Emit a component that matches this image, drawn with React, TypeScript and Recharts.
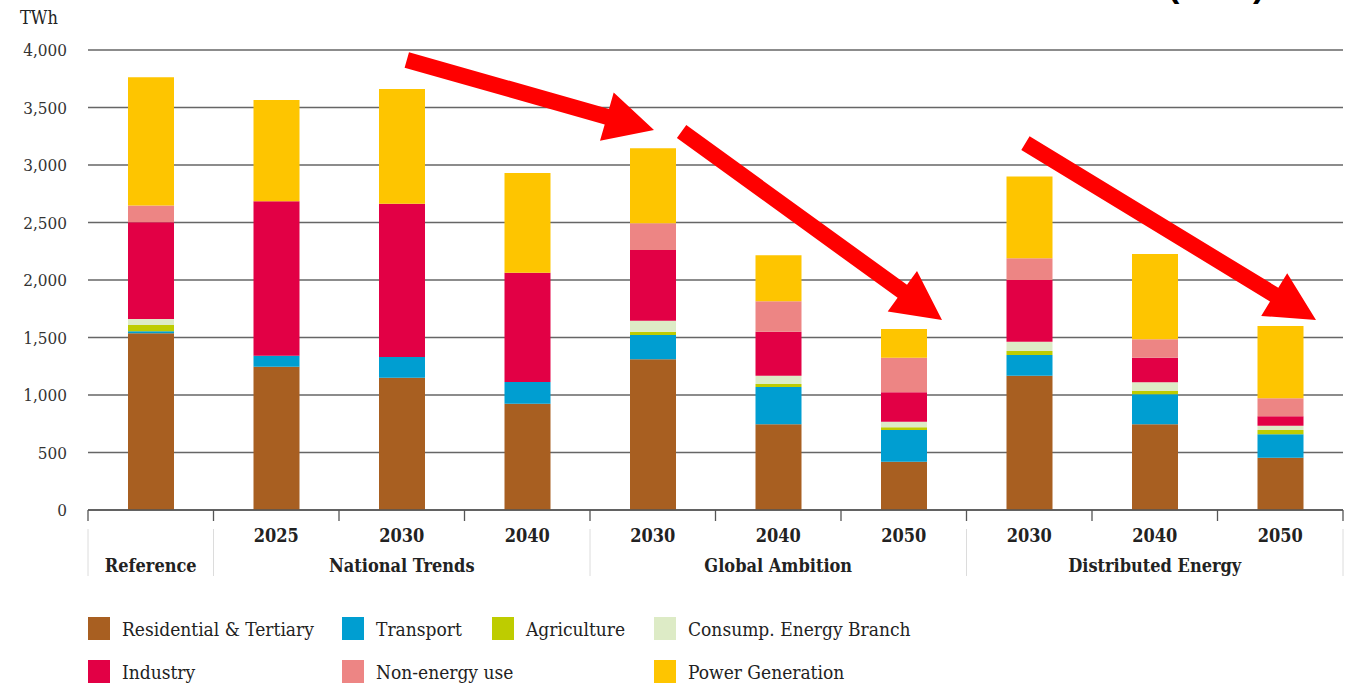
import React from "react";
import { BarChart, Bar, XAxis, YAxis, CartesianGrid } from "recharts";

// ---------- data ----------
const categoryKeys = ["REF", "NT2025", "NT2030", "NT2040", "GA2030", "GA2040", "GA2050", "DE2030", "DE2040", "DE2050"];
const yearLabels = ["", "2025", "2030", "2040", "2030", "2040", "2050", "2030", "2040", "2050"];
const groupLabels = ["Reference", "National Trends", "Global Ambition", "Distributed Energy"];
const groupCenterIndex = [0, 2, 5, 8];
const groupStartIndex = [0, 1, 4, 7];

const residential = [1537, 1246, 1151, 924, 1310, 745, 420, 1168, 745, 455];
const transport = [18, 96, 179, 189, 212, 325, 276, 180, 261, 203];
const agriculture = [54, 0, 0, 0, 29, 26, 23, 35, 29, 38];
const consump = [52, 0, 0, 0, 95, 72, 49, 81, 75, 37];
const industry = [841, 1342, 1334, 951, 615, 383, 255, 536, 215, 82];
const nonEnergy = [145, 0, 0, 0, 232, 264, 302, 189, 159, 156];
const power = [1116, 881, 997, 867, 652, 400, 249, 710, 742, 629];

const yTicks = [0, 500, 1000, 1500, 2000, 2500, 3000, 3500, 4000];
const Y_MAX = 4000;

const seriesNames = [
  "Residential & Tertiary",
  "Transport",
  "Agriculture",
  "Consump. Energy Branch",
  "Industry",
  "Non-energy use",
  "Power Generation",
];
const seriesKeys = ["res", "trans", "agri", "cons", "ind", "nonen", "power"];
const seriesValues = [residential, transport, agriculture, consump, industry, nonEnergy, power];
const seriesColors = ["#A85F21", "#009ED1", "#BECC00", "#DDEBC6", "#E20045", "#ED8584", "#FEC500"];

// legend grid placement (row, column) for each series
const legendRow = [0, 0, 0, 0, 1, 1, 1];
const legendCol = [0, 1, 2, 3, 0, 1, 3];

// annotation arrows: x in category units (0..10 across the plot), y in TWh; tail -> tip
const arrows = [
  { x1: 2.54, y1: 3913, x2: 4.51, y2: 3304 },
  { x1: 4.73, y1: 3291, x2: 6.805, y2: 1652 },
  { x1: 7.47, y1: 3191, x2: 9.785, y2: 1652 },
];

const data = categoryKeys.map((k, i) => {
  const row: any = { key: k, idx: i };
  seriesKeys.forEach((s, j) => {
    row[s] = seriesValues[j][i];
  });
  return row;
});

// ---------- layout ----------
const W = 1350;
const CHART_H = 590;
const MARGIN = { top: 50, right: 7, bottom: 0, left: 0 };
const Y_AXIS_W = 88;
const X_AXIS_H = 80;
const PLOT_LEFT = MARGIN.left + Y_AXIS_W;
const PLOT_TOP = MARGIN.top;
const PLOT_W = W - MARGIN.left - MARGIN.right - Y_AXIS_W;
const PLOT_H = CHART_H - MARGIN.top - MARGIN.bottom - X_AXIS_H;
const BAND = PLOT_W / categoryKeys.length;

const FONT = "'DejaVu Serif Condensed', 'DejaVu Serif', serif";

const XTick = (props: any) => {
  const { x, y, payload } = props;
  const i: number = payload?.index ?? props.index ?? 0;
  const left = x - BAND / 2;
  const right = x + BAND / 2;
  const gIdx = groupCenterIndex.indexOf(i);
  return (
    <g>
      <line x1={left} y1={y} x2={left} y2={y + 11} stroke="#555" strokeWidth={1.3} />
      {i === categoryKeys.length - 1 && (
        <line x1={right} y1={y} x2={right} y2={y + 11} stroke="#555" strokeWidth={1.3} />
      )}
      {groupStartIndex.includes(i) && (
        <line x1={left} y1={y + 19} x2={left} y2={y + 66} stroke="#dcdcdc" strokeWidth={1} />
      )}
      {i === categoryKeys.length - 1 && (
        <line x1={right} y1={y + 19} x2={right} y2={y + 66} stroke="#dcdcdc" strokeWidth={1} />
      )}
      <text x={x} y={y + 32} textAnchor="middle" fontFamily={FONT} fontWeight="bold" fontSize={18} fill="#222">
        {yearLabels[i]}
      </text>
      {gIdx >= 0 && (
        <text x={x} y={y + 62} textAnchor="middle" fontFamily={FONT} fontWeight="bold" fontSize={18} fill="#222">
          {groupLabels[gIdx]}
        </text>
      )}
    </g>
  );
};

const arrowPoints = (x1: number, y1: number, x2: number, y2: number) => {
  const dx = x2 - x1;
  const dy = y2 - y1;
  const L = Math.hypot(dx, dy) || 1;
  const ux = dx / L;
  const uy = dy / L;
  const nx = -uy;
  const ny = ux;
  const hl = 49;
  const hw = 25;
  const sw = 8;
  const bx = x2 - ux * hl;
  const by = y2 - uy * hl;
  return [
    [x1 + nx * sw, y1 + ny * sw],
    [bx + nx * sw, by + ny * sw],
    [bx + nx * hw, by + ny * hw],
    [x2, y2],
    [bx - nx * hw, by - ny * hw],
    [bx - nx * sw, by - ny * sw],
    [x1 - nx * sw, y1 - ny * sw],
  ]
    .map((q) => q.map((v) => v.toFixed(1)).join(","))
    .join(" ");
};

const px = (xc: number) => PLOT_LEFT + xc * BAND;
const py = (v: number) => PLOT_TOP + (1 - v / Y_MAX) * PLOT_H;

const fmt = (v: number) => v.toLocaleString("en-US");

export default function App() {
  return (
    <div style={{ position: "absolute", left: 0, top: 0, width: W, height: 683, background: "#fff", overflow: "hidden" }}>
      <svg style={{ position: "absolute", left: 0, top: 0 }} width={W} height={40}>
        <text x={1168} y={-3} fontFamily="'Liberation Sans', Arial, sans-serif" fontWeight="bold" fontSize={34} fill="#000">
          (TWh)
        </text>
        <text x={20} y={24} fontFamily={FONT} fontSize={18} fill="#222">
          TWh
        </text>
      </svg>
      <div style={{ position: "absolute", left: 0, top: 0 }}>
        <BarChart width={W} height={CHART_H} data={data} margin={MARGIN} barSize={46}>
          <CartesianGrid vertical={false} stroke="#666" strokeWidth={1.3} />
          <XAxis
            dataKey="key"
            interval={0}
            tickSize={0}
            tickMargin={0}
            height={X_AXIS_H}
            axisLine={{ stroke: "#555", strokeWidth: 1.3 }}
            tickLine={false}
            tick={<XTick />}
          />
          <YAxis
            width={Y_AXIS_W}
            domain={[0, Y_MAX]}
            ticks={yTicks}
            tickFormatter={fmt}
            axisLine={false}
            tickLine={false}
            tickSize={0}
            tickMargin={21}
            tick={{ fontFamily: FONT, fontSize: 17, fill: "#333" }}
          />
          {seriesKeys.map((k, j) => (
            <Bar key={k} dataKey={k} name={seriesNames[j]} stackId="a" fill={seriesColors[j]} isAnimationActive={false} />
          ))}
        </BarChart>
      </div>
      <svg style={{ position: "absolute", left: 0, top: 0, pointerEvents: "none" }} width={W} height={CHART_H}>
        {arrows.map((a, i) => (
          <polygon key={i} points={arrowPoints(px(a.x1), py(a.y1), px(a.x2), py(a.y2))} fill="#FF0000" />
        ))}
      </svg>
      {seriesNames.map((name, j) => {
        const colX = [88, 342, 492, 654][legendCol[j]];
        const rowY = [617, 660][legendRow[j]];
        return (
          <div key={name} style={{ position: "absolute", left: colX, top: rowY, display: "flex", alignItems: "center", height: 23 }}>
            <div style={{ width: 22, height: 23, background: seriesColors[j] }} />
            <span style={{ marginLeft: 12, fontFamily: FONT, fontSize: 19, color: "#222", whiteSpace: "nowrap" }}>{name}</span>
          </div>
        );
      })}
    </div>
  );
}
